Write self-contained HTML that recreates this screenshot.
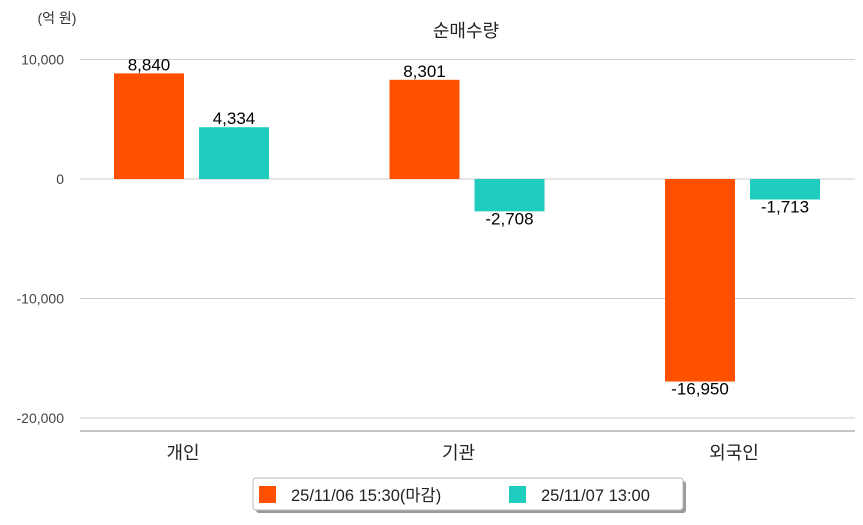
<!DOCTYPE html>
<html><head><meta charset="utf-8"><style>
body{margin:0;background:#fff;width:863px;height:520px;overflow:hidden;font-family:"Liberation Sans","Noto Sans CJK KR",sans-serif}
</style></head><body>
<svg id="chart" width="863" height="520" xmlns="http://www.w3.org/2000/svg" font-family="Liberation Sans, Noto Sans CJK KR, sans-serif">
<text x="57" y="23" font-size="14" fill="#333" text-anchor="middle">(억 원)</text>
<text x="466" y="37" font-size="18" fill="#222" text-anchor="middle">순매수량</text>
<g id="grid"></g><g id="bars"></g>
<line x1="80" x2="855" y1="431" y2="431" stroke="#888"/>
<g>
<rect x="256" y="481" width="430" height="32" rx="3" fill="#999"/>
<rect x="253" y="478" width="430" height="32" rx="3" fill="#fff" stroke="#bbb"/>
<rect x="259" y="486" width="17" height="17" fill="#ff5000"/>
<text x="291" y="501" font-size="16.5" fill="#222">25/11/06 15:30(마감)</text>
<rect x="509" y="486" width="17" height="17" fill="#1ecdbe"/>
<text x="541" y="501" font-size="16.5" fill="#222">25/11/07 13:00</text>
</g>
</svg>
<script>
const categories=["개인","기관","외국인"];
const series1=[8840,8301,-16950];
const series2=[4334,-2708,-1713];
const ticks=[10000,0,-10000,-20000];
const tickLabels=["10,000","0","-10,000","-20,000"];
const NS="http://www.w3.org/2000/svg";
const y=v=>179-v*119.5/10000;
const cx=i=>191+i*275.5;
function mk(t,a,p,txt){const e=document.createElementNS(NS,t);for(const k in a)e.setAttribute(k,a[k]);if(txt!==undefined)e.textContent=txt;p.appendChild(e);return e;}
const grid=document.getElementById('grid'),bars=document.getElementById('bars');
ticks.forEach((t,i)=>{
 const l=mk('line',{x1:80,x2:855,y1:y(t),y2:y(t),stroke:'#ccc'},grid);
 
 
 const tx=mk('text',{x:64,y:y(t)+5,'font-size':14,fill:'#444','text-anchor':'end'},grid,tickLabels[i]);
 
 
});
const fmt=v=>v.toLocaleString('en-US');
categories.forEach((c,i)=>{
 [[series1,'#ff5000',-42],[series2,'#1ecdbe',43]].forEach(([s,col,off])=>{
  const v=s[i],x=cx(i)+off;
  const r=mk('rect',{x:x-35,y:Math.min(y(v),y(0)),width:70,height:Math.abs(y(v)-y(0)),fill:col},bars);
  
  
  const t=mk('text',{x:x,y:v>=0?y(v)-3:y(v)+13,'font-size':17,fill:'#000','text-anchor':'middle'},bars,fmt(v));
  
  
 });
 const lb=mk('text',{x:cx(i)-8,y:459,'font-size':18,fill:'#222','text-anchor':'middle'},bars,c);
 
 
});
</script>
</body></html>
